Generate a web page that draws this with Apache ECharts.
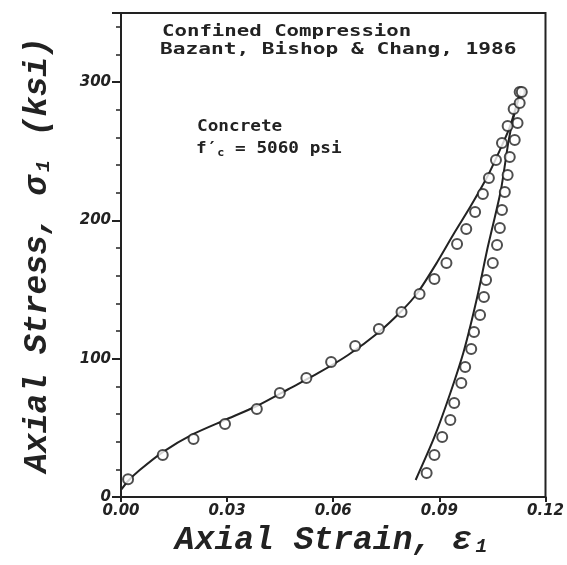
<!DOCTYPE html>
<html>
<head>
<meta charset="utf-8">
<script src="https://cdn.jsdelivr.net/npm/echarts@6/dist/echarts.min.js"></script>
<style>
  html, body { margin: 0; padding: 0; background: #fff; }
  #chart { width: 567px; height: 565px; }
</style>
</head>
<body>
<div id="chart"></div>
<script>
// Confined compression of concrete: measured points and model curves
// Strain is dimensionless, stress in ksi.

// Measured loading branch
const loadStrainTest = [0.0020, 0.0118, 0.0205, 0.0294, 0.0384, 0.0449, 0.0524, 0.0594, 0.0662, 0.0729,
  0.0793, 0.0844, 0.0886, 0.0920, 0.0950, 0.0976, 0.1001, 0.1023, 0.1040, 0.1060,
  0.1077, 0.1093, 0.1110, 0.1127];
const loadStressTest = [12.8, 30.4, 41.9, 52.8, 63.6, 75.2, 86.0, 97.6, 109.2, 121.5,
  133.8, 146.8, 157.6, 169.2, 182.9, 193.8, 206.1, 219.1, 230.7, 243.7,
  256.0, 268.3, 280.5, 292.8];

// Measured unloading branch
const unloadStrainTest = [0.1133, 0.1127, 0.1121, 0.1113, 0.1099, 0.1093, 0.1085, 0.1077, 0.1071, 0.1063,
  0.1051, 0.1032, 0.1026, 0.1015, 0.0998, 0.0990, 0.0973, 0.0962, 0.0942, 0.0931,
  0.0908, 0.0886, 0.0864];
const unloadStressTest = [292.8, 284.9, 270.4, 258.1, 245.8, 232.8, 220.5, 207.5, 194.5, 182.2,
  169.2, 156.9, 144.6, 131.6, 119.3, 107.0, 94.0, 82.4, 68.0, 55.7,
  43.4, 30.4, 17.4];

// Model curve, loading
const loadStrainModel = [0.0, 0.0020, 0.0053, 0.0118, 0.0205, 0.0294, 0.0384, 0.0474, 0.0558, 0.0642,
  0.0726, 0.0793, 0.0838, 0.0894, 0.0942, 0.0987, 0.1035, 0.1071, 0.1099, 0.1130];
const loadStressModel = [5.1, 11.6, 19.5, 32.5, 45.6, 55.7, 65.8, 78.1, 89.7, 102.7,
  118.6, 134.5, 147.5, 169.9, 190.9, 209.7, 231.4, 250.9, 267.5, 294.0];

// Model curve, unloading
const unloadStrainModel = [0.1130, 0.1110, 0.1096, 0.1074, 0.1050, 0.1035, 0.1007, 0.0970, 0.0931, 0.0886, 0.0833];
const unloadStressModel = [294.0, 275.0, 258.1, 222.0, 195.0, 178.6, 144.6, 106.3, 75.2, 43.4, 12.3];

// Axis ranges and tick steps
const strainTicks = [0, 0.12, 0.03];
const stressTicks = [0, 350, 100];

const pairs = (xs, ys) => xs.map((x, i) => [x, ys[i]]);

const ink = '#222';
const tickFont = { color: ink, fontFamily: 'DejaVu Sans', fontWeight: 'bold', fontStyle: 'italic', fontSize: 15 };
const titleFont = { color: ink, fontFamily: 'Liberation Mono', fontWeight: 'bold', fontStyle: 'italic', fontSize: 33 };
const noteFont = 'bold 15px "DejaVu Sans Mono"';

const chart = echarts.init(document.getElementById('chart'), null, { renderer: 'canvas' });

chart.setOption({
  backgroundColor: '#fff',
  animation: false,
  grid: {
    left: 121, right: 16, top: 13, bottom: 68,
    show: true, borderColor: ink, borderWidth: 2, backgroundColor: 'transparent'
  },
  xAxis: {
    type: 'value',
    min: strainTicks[0], max: strainTicks[1], interval: strainTicks[2],
    name: 'Axial Strain, ε₁',
    nameLocation: 'middle',
    nameGap: 27,
    nameTextStyle: titleFont,
    axisLine: { lineStyle: { color: ink, width: 2 } },
    axisTick: { show: true, length: 5, lineStyle: { color: ink, width: 2 } },
    splitLine: { show: false },
    axisLabel: Object.assign({ margin: 7, formatter: v => v.toFixed(2) }, tickFont)
  },
  yAxis: {
    type: 'value',
    min: stressTicks[0], max: stressTicks[1], interval: stressTicks[2],
    name: 'Axial Stress, σ₁ (ksi)',
    nameLocation: 'middle',
    nameGap: 67,
    nameRotate: 90,
    nameTextStyle: titleFont,
    axisLine: { lineStyle: { color: ink, width: 2 } },
    axisTick: { show: true, length: 9, lineStyle: { color: ink, width: 2 } },
    minorTick: { show: true, splitNumber: 5, length: 5, lineStyle: { color: ink, width: 1.5 } },
    splitLine: { show: false },
    axisLabel: Object.assign({ margin: 10, showMaxLabel: false }, tickFont)
  },
  graphic: [
    { type: 'text', x: 162, y: 25, scaleX: 1.38, style: { text: 'Confined Compression', font: noteFont, fill: ink, textVerticalAlign: 'top' } },
    { type: 'text', x: 160, y: 43, scaleX: 1.41, style: { text: 'Bazant, Bishop & Chang, 1986', font: noteFont, fill: ink, textVerticalAlign: 'top' } },
    { type: 'text', x: 197, y: 120, scaleX: 1.18, style: { text: 'Concrete', font: noteFont, fill: ink, textVerticalAlign: 'top' } },
    {
      type: 'text', x: 196, y: 140, scaleX: 1.18,
      style: {
        text: '{a|f′}{b|c}{a| = 5060 psi}',
        fill: ink,
        textVerticalAlign: 'top',
        rich: {
          a: { font: noteFont, fill: ink },
          b: { font: 'bold 10px "DejaVu Sans Mono"', fill: ink, padding: [8, 0, 0, 0] }
        }
      }
    }
  ],
  series: [
    {
      name: 'Model loading', type: 'line', data: pairs(loadStrainModel, loadStressModel),
      smooth: 0.25, showSymbol: false, lineStyle: { color: ink, width: 2 }, z: 2
    },
    {
      name: 'Model unloading', type: 'line', data: pairs(unloadStrainModel, unloadStressModel),
      smooth: 0.25, showSymbol: false, lineStyle: { color: ink, width: 2 }, z: 2
    },
    {
      name: 'Test loading', type: 'scatter', data: pairs(loadStrainTest, loadStressTest),
      symbol: 'emptyCircle', symbolSize: 10,
      itemStyle: { color: ink, borderWidth: 2 }, z: 3
    },
    {
      name: 'Test unloading', type: 'scatter', data: pairs(unloadStrainTest, unloadStressTest),
      symbol: 'emptyCircle', symbolSize: 10,
      itemStyle: { color: ink, borderWidth: 2 }, z: 3
    }
  ]
});
</script>
</body>
</html>
